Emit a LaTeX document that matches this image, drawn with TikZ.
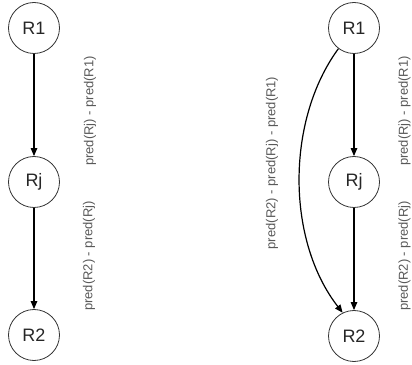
\documentclass[tikz,border=0pt]{standalone}
\usepackage{fontspec}
\setmainfont{Liberation Sans}
\usetikzlibrary{arrows.meta}
\begin{document}
\begin{tikzpicture}[x=1pt,y=1pt,
  state/.style={circle,draw=black!80,line width=0.8pt,minimum size=51pt,inner sep=0pt,
    font=\fontsize{18}{18}\selectfont,text=black!85},
  edge/.style={-{Triangle[length=8pt,width=6.5pt]},line width=1.2pt,black},
  cost/.style={rotate=90,font=\fontsize{13}{13}\selectfont,text=black!65,inner sep=0pt}]
\useasboundingbox (0,0) rectangle (412,364);
% chain through Rj
\node[state] (a1) at (34,336) {R1};
\node[state] (aj) at (34,182) {Rj};
\node[state] (a2) at (34,29) {R2};
\draw[edge] (a1) -- (aj);
\draw[edge] (aj) -- (a2);
\node[cost] (la1) at (90,253) {pred(Rj) - pred(R1)};
\node[cost] (la2) at (89,108) {pred(R2) - pred(Rj)};
% chain with a direct edge R1 -> R2
\node[state] (b1) at (354,336) {R1};
\node[state] (bj) at (354,182) {Rj};
\node[state] (b2) at (354,28) {R2};
\draw[edge] (b1) -- (bj);
\draw[edge] (bj) -- (b2);
\draw[edge] (b1.233) .. controls (286,244) and (286,124) .. (b2.116);
\node[cost] (lb) at (272,201) {pred(R2) - pred(Rj) - pred(R1)};
\node[cost] (lb1) at (404.5,253) {pred(Rj) - pred(R1)};
\node[cost] (lb2) at (404.5,108) {pred(R2) - pred(Rj)};
\end{tikzpicture}
\end{document}
